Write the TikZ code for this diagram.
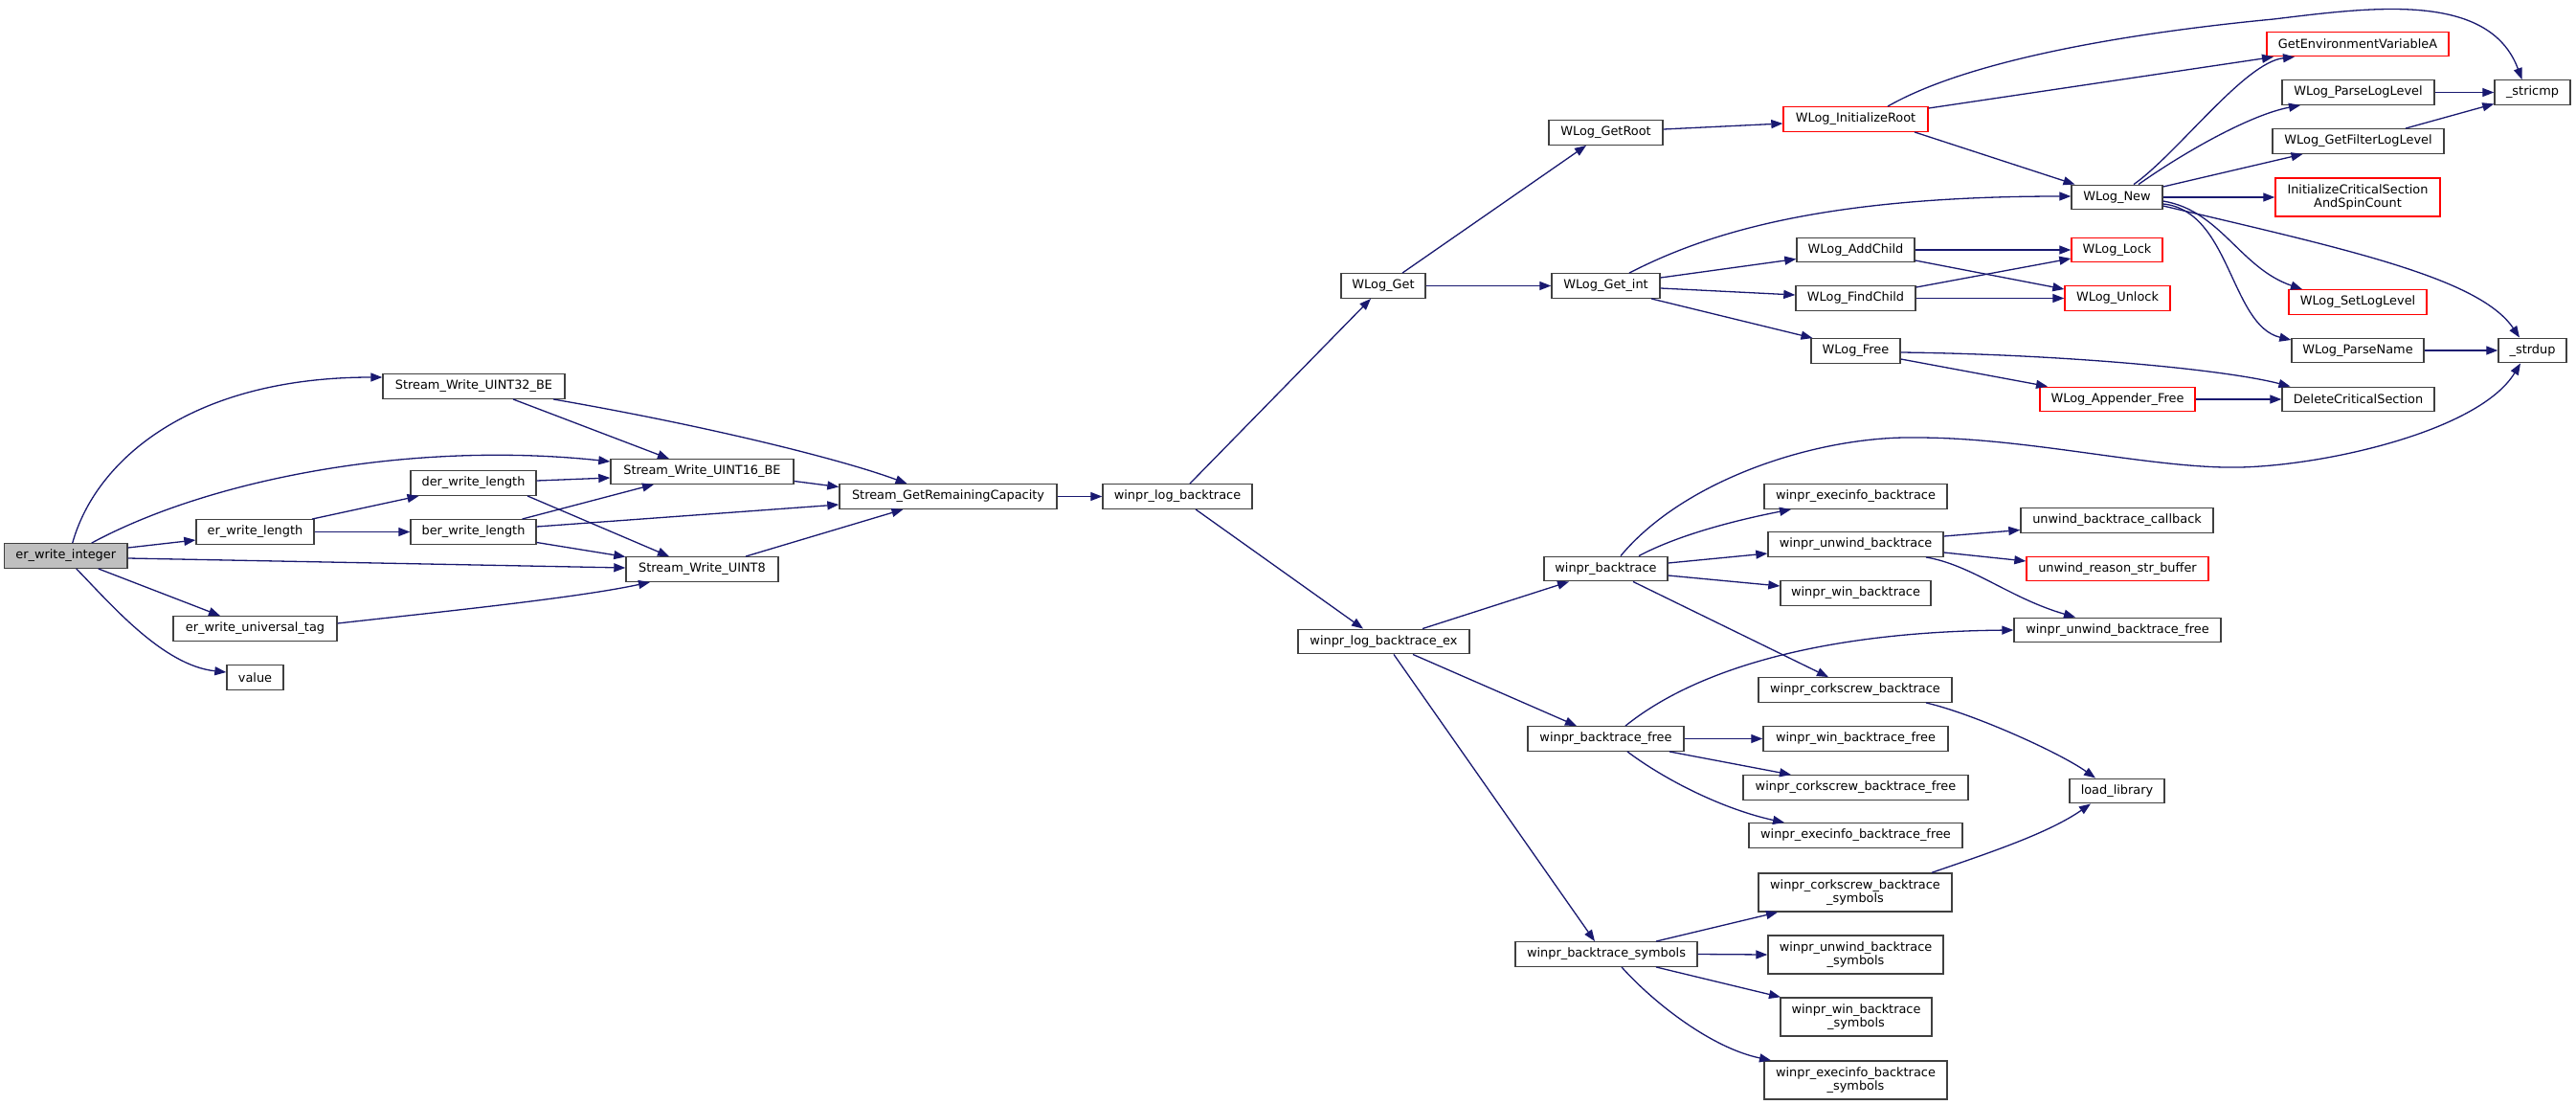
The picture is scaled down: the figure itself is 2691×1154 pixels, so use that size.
\documentclass[tikz,border=0pt]{standalone}
\usepackage{fontspec}
\newfontfamily\dejavu{DejaVu Sans}
\usetikzlibrary{arrows.meta}
\definecolor{edgeblue}{HTML}{191970}
\definecolor{bordergray}{HTML}{404040}
\definecolor{boxred}{HTML}{FF0000}
\definecolor{rootgray}{HTML}{BFBFBF}
\newcommand\nfont{\dejavu\fontsize{12.9}{14.7}\selectfont}
\tikzset{
  box/.style={draw=bordergray, line width=1.4pt, fill=white, inner sep=0pt, minimum height=25.5pt, font=\nfont, align=center, text=black},
  rbox/.style={box, draw=boxred},
  gbox/.style={box, fill=rootgray},
  edge/.style={draw=edgeblue, line width=1.3pt, -{Triangle[length=12pt,width=9pt]}},
}
\begin{document}
\begin{tikzpicture}[x=1pt,y=-1pt]
\fill[white] (0,0) rectangle (2691,1154);
\useasboundingbox (0,0) rectangle (2691,1154);
% nodes
\node[gbox, minimum width=128.5pt] (ewi) at (68.75,580.5) {er\_write\_integer};
\node[box, minimum width=190pt] (s32) at (495,403.5) {Stream\_Write\_UINT32\_BE};
\node[box, minimum width=123pt] (ewl) at (266.5,555.5) {er\_write\_length};
\node[box, minimum width=131pt] (dwl) at (494.5,504.5) {der\_write\_length};
\node[box, minimum width=131pt] (bwl) at (494.5,555.5) {ber\_write\_length};
\node[box, minimum width=191pt] (s16) at (733.5,492.5) {Stream\_Write\_UINT16\_BE};
\node[box, minimum width=159pt] (s8) at (733.5,594.5) {Stream\_Write\_UINT8};
\node[box, minimum width=171pt] (ewut) at (266.5,656.5) {er\_write\_universal\_tag};
\node[box, minimum width=59pt] (val) at (266.5,707.5) {value};
\node[box, minimum width=227pt] (sgrc) at (990.5,518.5) {Stream\_GetRemainingCapacity};
\node[box, minimum width=156pt] (wlb) at (1230,518.5) {winpr\_log\_backtrace};
\node[box, minimum width=179pt] (wlbe) at (1445.5,670) {winpr\_log\_backtrace\_ex};
\node[box, minimum width=88pt] (wg) at (1445,298.5) {WLog\_Get};
\node[box, minimum width=119pt] (wgr) at (1677.5,138.5) {WLog\_GetRoot};
\node[box, minimum width=113pt] (wgi) at (1677.5,298.5) {WLog\_Get\_int};
\node[rbox, minimum width=151pt] (wir) at (1938.5,124.5) {WLog\_InitializeRoot};
\node[box, minimum width=123pt] (wac) at (1938.5,261) {WLog\_AddChild};
\node[box, minimum width=125pt] (wfc) at (1938.5,311.5) {WLog\_FindChild};
\node[box, minimum width=93pt] (wf) at (1938.5,366.5) {WLog\_Free};
\node[box, minimum width=95pt] (wn) at (2211.5,206) {WLog\_New};
\node[rbox, minimum width=95pt] (wl) at (2211.5,261) {WLog\_Lock};
\node[rbox, minimum width=110pt] (wu) at (2212,311.5) {WLog\_Unlock};
\node[rbox, minimum width=162pt] (waf) at (2212,417) {WLog\_Appender\_Free};
\node[rbox, minimum width=190pt] (gev) at (2463,46) {GetEnvironmentVariableA};
\node[box, minimum width=159pt] (wpl) at (2463.5,96.5) {WLog\_ParseLogLevel};
\node[box, minimum width=179pt] (wgf) at (2463.5,147.5) {WLog\_GetFilterLogLevel};
\node[rbox, minimum width=172pt, minimum height=40pt] (ics) at (2463,206) {InitializeCriticalSection\\AndSpinCount};
\node[rbox, minimum width=144pt] (wsl) at (2463,315.5) {WLog\_SetLogLevel};
\node[box, minimum width=138pt] (wpn) at (2463,366) {WLog\_ParseName};
\node[box, minimum width=159pt] (dcs) at (2463.5,417) {DeleteCriticalSection};
\node[box, minimum width=79pt] (stc) at (2645.5,96.5) {\_stricmp};
\node[box, minimum width=71pt] (sdp) at (2645.5,366) {\_strdup};
\node[box, minimum width=129pt] (wbt) at (1677.5,594) {winpr\_backtrace};
\node[box, minimum width=163pt] (wbf) at (1677.5,771.5) {winpr\_backtrace\_free};
\node[box, minimum width=190pt] (wbs) at (1678,996.5) {winpr\_backtrace\_symbols};
\node[box, minimum width=191pt] (web) at (1938.5,518.5) {winpr\_execinfo\_backtrace};
\node[box, minimum width=183pt] (wub) at (1938.5,568.5) {winpr\_unwind\_backtrace};
\node[box, minimum width=157pt] (wwb) at (1938.5,619.5) {winpr\_win\_backtrace};
\node[box, minimum width=202pt] (wcb) at (1938,720.5) {winpr\_corkscrew\_backtrace};
\node[box, minimum width=193pt] (wwbf) at (1938.5,771.5) {winpr\_win\_backtrace\_free};
\node[box, minimum width=235pt] (wcbf) at (1938.5,822.5) {winpr\_corkscrew\_backtrace\_free};
\node[box, minimum width=223pt] (webf) at (1938.5,872.5) {winpr\_execinfo\_backtrace\_free};
\node[box, minimum width=202pt, minimum height=40pt] (wcbs) at (1938,932) {winpr\_corkscrew\_backtrace\\\_symbols};
\node[box, minimum width=183pt, minimum height=40pt] (wubs) at (1938.5,997) {winpr\_unwind\_backtrace\\\_symbols};
\node[box, minimum width=158pt, minimum height=40pt] (wwbs) at (1939,1062) {winpr\_win\_backtrace\\\_symbols};
\node[box, minimum width=191pt, minimum height=40pt] (webs) at (1938.5,1128) {winpr\_execinfo\_backtrace\\\_symbols};
\node[box, minimum width=201pt] (ubc) at (2211.5,543.5) {unwind\_backtrace\_callback};
\node[rbox, minimum width=190pt] (urs) at (2212,594) {unwind\_reason\_str\_buffer};
\node[box, minimum width=216pt] (wubf) at (2212,658) {winpr\_unwind\_backtrace\_free};
\node[box, minimum width=99pt] (ll) at (2211.5,826) {load\_library};
% via points
\coordinate (v1) at (2375,20);
\coordinate (v2) at (2002,457);
\coordinate (v3) at (2340,488);
% edges
\draw[edge] ([shift={(7,0)}]ewi.north) .. controls (100,480) and (200,394) .. ([shift={(0,-9.5)}]s32.west);
\draw[edge] ([shift={(27,0)}]ewi.north) .. controls (220,500) and (430,460) .. ([shift={(0,-10.5)}]s16.west);
\draw[edge] ([shift={(0,-8.5)}]ewi.east) -- ([shift={(0,8.5)}]ewl.west);
\draw[edge] ([shift={(0,2.5)}]ewi.east) -- ([shift={(0,-1.5)}]s8.west);
\draw[edge] ([shift={(34,0)}]ewi.south) -- ([shift={(-36.5,0)}]ewut.north);
\draw[edge] ([shift={(11,0)}]ewi.south) .. controls (115,630) and (170,695) .. ([shift={(0,-5.5)}]val.west);
\draw[edge] ([shift={(59.5,0)}]ewl.north) -- ([shift={(-57,0)}]dwl.south);
\draw[edge] (ewl.east) -- (bwl.west);
\draw[edge] ([shift={(0,-2.5)}]dwl.east) -- ([shift={(0,6.5)}]s16.west);
\draw[edge] ([shift={(56.5,0)}]dwl.south) -- ([shift={(-34.5,0)}]s8.north);
\draw[edge] ([shift={(51,0)}]bwl.north) -- ([shift={(-50.5,0)}]s16.south);
\draw[edge] ([shift={(0,-5.5)}]bwl.east) -- ([shift={(0,8.5)}]sgrc.west);
\draw[edge] ([shift={(0,11)}]bwl.east) -- ([shift={(0,-13)}]s8.west);
\draw[edge] ([shift={(41,0)}]s32.south) -- ([shift={(-34.5,0)}]s16.north);
\draw[edge] ([shift={(83,0)}]s32.south) .. controls (740,445) and (880,480) .. ([shift={(-43,0)}]sgrc.north);
\draw[edge] ([shift={(0,10)}]s16.east) -- ([shift={(0,-10)}]sgrc.west);
\draw[edge] ([shift={(45.5,0)}]s8.north) -- ([shift={(-47,0)}]sgrc.south);
\draw[edge] ([shift={(0,-5.5)}]ewut.east) .. controls (450,640) and (600,625) .. ([shift={(-54.5,0)}]s8.south);
\draw[edge] (sgrc.east) -- (wlb.west);
\draw[edge] ([shift={(13,0)}]wlb.north) -- ([shift={(-13,0)}]wg.south);
\draw[edge] ([shift={(19,0)}]wlb.south) -- ([shift={(-21.5,0)}]wlbe.north);
\draw[edge] ([shift={(20,0)}]wg.north) -- ([shift={(-20.5,0)}]wgr.south);
\draw[edge] (wg.east) -- (wgi.west);
\draw[edge] ([shift={(0,-3.5)}]wgr.east) -- ([shift={(0,4.5)}]wir.west);
\draw[edge] ([shift={(33.5,0)}]wir.north) .. controls (2070,55) and (2270,30) .. (v1) .. controls (2475,8) and (2600,-10) .. ([shift={(-11,0)}]stc.north);
\draw[edge] ([shift={(0,-11.5)}]wir.east) -- ([shift={(-88,0)}]gev.south);
\draw[edge] ([shift={(61.5,0)}]wir.south) -- ([shift={(-44,0)}]wn.north);
\draw[edge] ([shift={(24.5,0)}]wgi.north) .. controls (1780,245) and (1900,205) .. ([shift={(0,-1)}]wn.west);
\draw[edge] ([shift={(0,-8.5)}]wgi.east) -- ([shift={(0,9.5)}]wac.west);
\draw[edge] ([shift={(0,2.5)}]wgi.east) -- ([shift={(0,-3.5)}]wfc.west);
\draw[edge] ([shift={(47.5,0)}]wgi.south) -- ([shift={(-45,0)}]wf.north);
\draw[edge] (wac.east) -- (wl.west);
\draw[edge] ([shift={(0,11)}]wac.east) -- ([shift={(0,-9.5)}]wu.west);
\draw[edge] ([shift={(0,-11.5)}]wfc.east) -- ([shift={(0,9)}]wl.west);
\draw[edge] (wfc.east) -- (wu.west);
\draw[edge] ([shift={(0,1.5)}]wf.east) .. controls (2150,370) and (2320,385) .. ([shift={(-71,0)}]dcs.north);
\draw[edge] ([shift={(0,8.5)}]wf.east) -- ([shift={(-73,0)}]waf.north);
\draw[edge] (waf.east) -- (dcs.west);
\draw[edge] ([shift={(17.5,0)}]wn.north) .. controls (2275,160) and (2345,65) .. ([shift={(-66,0)}]gev.south);
\draw[edge] ([shift={(22.5,0)}]wn.north) .. controls (2280,160) and (2350,120) .. ([shift={(-60.5,0)}]wpl.south);
\draw[edge] ([shift={(0,-11)}]wn.east) -- ([shift={(-58,0)}]wgf.south);
\draw[edge] (wn.east) -- (ics.west);
\draw[edge] ([shift={(0,4)}]wn.east) .. controls (2320,220) and (2340,280) .. ([shift={(-58,0)}]wsl.north);
\draw[edge] ([shift={(0,7)}]wn.east) .. controls (2330,220) and (2330,340) .. ([shift={(0,-11)}]wpn.west);
\draw[edge] ([shift={(0,9)}]wn.east) .. controls (2450,260) and (2590,290) .. ([shift={(-13.5,0)}]sdp.north);
\draw[edge] (wpl.east) -- (stc.west);
\draw[edge] ([shift={(49.5,0)}]wgf.north) -- ([shift={(0,12)}]stc.west);
\draw[edge] (wpn.east) -- (sdp.west);
\draw[edge] ([shift={(15.5,0)}]wbt.north) .. controls (1760,500) and (1900,455) .. (v2) .. controls (2120,457) and (2250,490) .. (v3) .. controls (2430,486) and (2590,450) .. ([shift={(-12.5,0)}]sdp.south);
\draw[edge] ([shift={(34.5,0)}]wbt.north) .. controls (1760,555) and (1830,540) .. ([shift={(-67.5,0)}]web.south);
\draw[edge] ([shift={(0,-6)}]wbt.east) -- ([shift={(0,9.5)}]wub.west);
\draw[edge] ([shift={(0,7)}]wbt.east) -- ([shift={(0,-7.5)}]wwb.west);
\draw[edge] ([shift={(28.5,0)}]wbt.south) -- ([shift={(-28,0)}]wcb.north);
\draw[edge] ([shift={(0,-8.5)}]wub.east) -- ([shift={(0,10)}]ubc.west);
\draw[edge] ([shift={(0,8.5)}]wub.east) -- ([shift={(0,-8)}]urs.west);
\draw[edge] ([shift={(73.5,0)}]wub.south) .. controls (2060,590) and (2100,625) .. ([shift={(-44,0)}]wubf.north);
\draw[edge] ([shift={(20.5,0)}]wbf.north) .. controls (1770,700) and (1900,660) .. (wubf.west);
\draw[edge] (wbf.east) -- (wwbf.west);
\draw[edge] ([shift={(66.5,0)}]wbf.south) -- ([shift={(-67.5,0)}]wcbf.north);
\draw[edge] ([shift={(22.5,0)}]wbf.south) .. controls (1740,815) and (1800,845) .. ([shift={(-74.5,0)}]webf.north);
\draw[edge] ([shift={(74,0)}]wcb.south) .. controls (2060,745) and (2150,785) .. ([shift={(-22.5,0)}]ll.north);
\draw[edge] ([shift={(80,0)}]wcbs.north) .. controls (2080,890) and (2140,870) .. ([shift={(-27.5,0)}]ll.south);
\draw[edge] ([shift={(40.5,0)}]wlbe.north) -- ([shift={(-38.5,0)}]wbt.south);
\draw[edge] ([shift={(30.5,0)}]wlbe.south) -- ([shift={(-30.5,0)}]wbf.north);
\draw[edge] ([shift={(10.5,0)}]wlbe.south) -- ([shift={(-12,0)}]wbs.north);
\draw[edge] ([shift={(52,0)}]wbs.north) -- ([shift={(-81,0)}]wcbs.south);
\draw[edge] (wbs.east) -- (wubs.west);
\draw[edge] ([shift={(52,0)}]wbs.south) -- ([shift={(-79,0)}]wwbs.north);
\draw[edge] ([shift={(16,0)}]wbs.south) .. controls (1730,1050) and (1790,1095) .. ([shift={(-88.5,0)}]webs.north);
\end{tikzpicture}
\end{document}
